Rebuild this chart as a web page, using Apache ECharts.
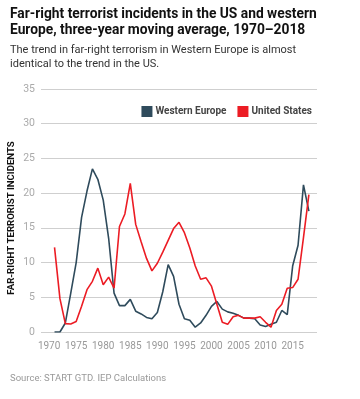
<!DOCTYPE html>
<html><head><meta charset="utf-8">
<script src="https://cdn.jsdelivr.net/npm/echarts@6/dist/echarts.min.js"></script>
<style>html,body{margin:0;padding:0;background:#fff}#c{width:360px;height:399px}</style>
</head><body><div id="c"></div>
<script>
var years = [];
for (var y = 1969; y <= 2019; y++) years.push(String(y));
// values 1971..2018 (three-year moving average)
var westernEurope = [0,0,1.3,5.6,10,16.5,20.3,23.5,22.0,19.0,13.5,5.6,3.8,3.8,4.7,3.0,2.6,2.1,1.9,2.8,5.8,9.7,8.0,4.0,1.9,1.7,0.7,1.3,2.4,3.7,4.4,3.3,2.9,2.7,2.4,2.0,2.0,1.9,1.0,0.8,1.1,1.4,3.1,2.5,9.5,12.5,21.2,17.4];
var unitedStates = [12.2,4.8,1.2,1.15,1.5,3.7,6.1,7.3,9.2,6.8,7.9,6.3,15.2,17.0,21.4,15.5,13.0,10.6,8.8,9.9,11.5,13.2,14.9,15.8,14.3,12.1,9.5,7.6,7.8,6.6,4.0,1.4,1.1,2.2,2.4,2.0,2.0,2.0,2.2,1.4,0.7,3.1,4.0,6.3,6.4,7.6,13.6,19.8];
var yTicks = [0,5,10,15,20,25,30,35];
var seriesNames = ['Western Europe','United States'];
var firstYear = 1971;

function pad(vals){
  var out = years.map(function(){return null;});
  vals.forEach(function(v,i){ out[years.indexOf(String(firstYear+i))] = v; });
  return out;
}
var chart = echarts.init(document.getElementById('c'), null, {renderer:'canvas'});
var FONT = 'Roboto';
chart.setOption({
  animation:false,
  textStyle:{fontFamily:FONT},
  grid:{left:41,right:43,top:89,bottom:67,containLabel:false},
  title:[
    {text:'Far-right terrorist incidents in the US and western\nEurope, three-year moving average, 1970–2018',
     left:5,top:2,textStyle:{fontFamily:FONT,fontWeight:'bold',fontSize:13.8,lineHeight:16,color:'#111'}},
    {text:'The trend in far-right terrorism in Western Europe is almost\nidentical to the trend in the US.',
     left:5,top:38,textStyle:{fontFamily:FONT,fontWeight:'normal',fontSize:11,lineHeight:14.3,color:'#333'}},
    {text:'Source: START GTD. IEP Calculations',left:5,top:369,
     textStyle:{fontFamily:FONT,fontWeight:'normal',fontSize:9.5,color:'#999'}}
  ],
  legend:{right:43,top:101,itemWidth:11,itemHeight:11,itemGap:11,icon:'rect',
    textStyle:{fontFamily:FONT,fontWeight:'bold',fontSize:10,color:'#444',padding:[0,0,0,-2]},
    data:seriesNames},
  xAxis:{type:'category',data:years,boundaryGap:true,
    axisLine:{show:false},axisTick:{show:false},
    axisLabel:{interval:0,margin:9,color:'#999',fontSize:10,
      formatter:function(v){return (+v)%5===0?v:'';}}},
  yAxis:{type:'value',min:yTicks[0],max:yTicks[yTicks.length-1],interval:5,
    name:'',axisLine:{show:false},axisTick:{show:false},
    axisLabel:{margin:6,color:'#aaa',fontSize:10.5},
    splitLine:{lineStyle:{color:'#cfcfcf',width:1}}},
  graphic:[{type:'text',x:12,y:218,rotation:Math.PI/2,
    style:{text:'FAR-RIGHT TERRORIST INCIDENTS',fontFamily:FONT,fontWeight:'bold',fontSize:9.6,fill:'#111',
      align:'center',verticalAlign:'middle'}}],
  series:[
    {name:seriesNames[0],type:'line',data:pad(westernEurope),showSymbol:false,symbol:'none',
     lineStyle:{color:'#2f4b5c',width:1.6},itemStyle:{color:'#2f4b5c'}},
    {name:seriesNames[1],type:'line',data:pad(unitedStates),showSymbol:false,symbol:'none',
     lineStyle:{color:'#ec1c24',width:1.6},itemStyle:{color:'#ec1c24'}}
  ]
});
</script></body></html>
